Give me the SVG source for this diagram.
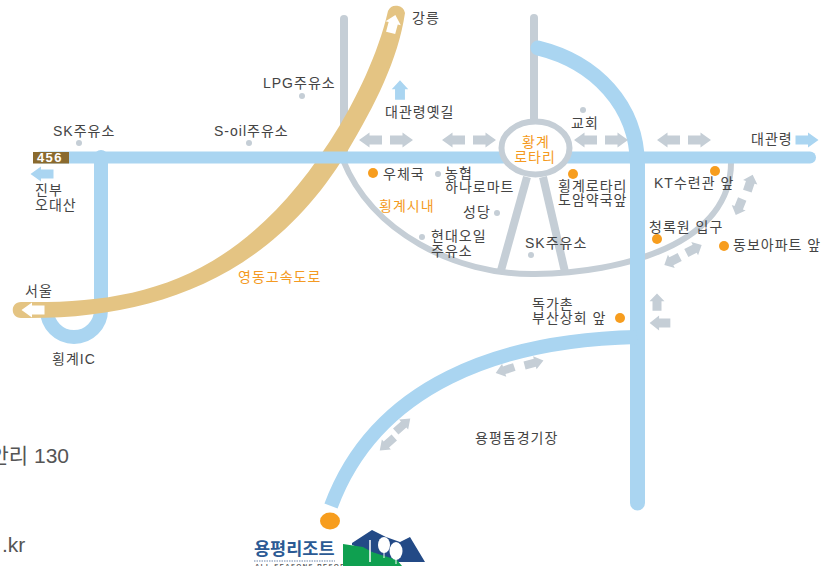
<svg xmlns="http://www.w3.org/2000/svg" width="823" height="566" viewBox="0 0 823 566">
<style>
text{font-family:"Liberation Sans","Noto Sans CJK KR",sans-serif;font-size:14px;letter-spacing:1px;fill:#444}
.o{fill:#f49a22}
.blue{fill:none;stroke:#aad5f1}
.gray{fill:none;stroke:#c5ced6}
.dg{fill:#c5ced6}.do{fill:#f79d1e}
.ag{fill:#c5ced6}.ab{fill:#aad5f1}.aw{fill:#fff}
</style>
<defs><path id="a" d="M-11.500,-4.500H1V-7.500L11.500,0L1,7.500V4.500H-11.500Z"/></defs>
<rect width="823" height="566" fill="#fff"/>
<g id="connectors">
<path class="gray" stroke-width="8" stroke-linecap="round" d="M344,19V157"/>
<path class="gray" stroke-width="8" stroke-linecap="round" d="M534,18V122"/>
<path class="gray" stroke-width="6" d="M343,160C372,232 455,275 535,274C620,273 733,245 731,160"/>
<path class="gray" stroke-width="8" d="M527,177L500,274"/>
<path class="gray" stroke-width="8" d="M543,177L565,272"/>
<path class="blue" stroke-width="14" stroke-linecap="round" d="M101,157V310A27,27 0 0 1 47,310"/>
<path d="M21,302C140,304 245,282 340,125C355,100 378,55 388,11A9,9 0 0 1 405,13C398,60 375,105 347,152C270,280 150,320 21,318C10,318 10,302 21,302Z" fill="#e4c483"/>
<path class="blue" stroke-width="12" stroke-linecap="round" d="M40,157.500H810"/>
<path class="blue" stroke-width="15" stroke-linecap="round" d="M538,48C595,62 637,105 637.500,165V503"/>
<path class="blue" stroke-width="14" d="M637,337C500,340 376,385 331,506"/>
<use href="#a" class="aw" transform="translate(33,310) rotate(180)"/>
<use href="#a" class="aw" transform="translate(393,24) rotate(-75) scale(.8,1.050)"/>
<use href="#a" class="ab" transform="translate(42,174) rotate(180)"/>
<use href="#a" class="ab" transform="translate(400,90) rotate(-90) scale(.85,1.100)"/>
<use href="#a" class="ab" transform="translate(807,140)"/>
<use href="#a" class="ag" transform="translate(370.500,140) rotate(180)"/>
<use href="#a" class="ag" transform="translate(401.500,140)"/>
<use href="#a" class="ag" transform="translate(453.500,140) rotate(180)"/>
<use href="#a" class="ag" transform="translate(484.500,140)"/>
<use href="#a" class="ag" transform="translate(585.500,140) rotate(180)"/>
<use href="#a" class="ag" transform="translate(616.500,140)"/>
<use href="#a" class="ag" transform="translate(668.500,140) rotate(180)"/>
<use href="#a" class="ag" transform="translate(699.500,140)"/>
<use href="#a" class="ag" transform="translate(750,183) rotate(-72) scale(.75,1)"/>
<use href="#a" class="ag" transform="translate(739,207) rotate(112) scale(.75,1)"/>
<use href="#a" class="ag" transform="translate(694,249) rotate(-27) scale(.75,1)"/>
<use href="#a" class="ag" transform="translate(672,261) rotate(153) scale(.75,1)"/>
<use href="#a" class="ag" transform="translate(657,302) rotate(-90) scale(.75,1)"/>
<use href="#a" class="ag" transform="translate(660,323) rotate(180) scale(.9,1)"/>
<use href="#a" class="ag" transform="translate(505,370) rotate(162) scale(.85,.9)"/>
<use href="#a" class="ag" transform="translate(534,363) rotate(-15) scale(.85,.9)"/>
<use href="#a" class="ag" transform="translate(403,425) rotate(-42) scale(.85,.9)"/>
<use href="#a" class="ag" transform="translate(387,444) rotate(138) scale(.85,.9)"/>
</g>
<g id="n456"><rect x="33" y="152" width="36" height="11.500" fill="#8a6a2e"/><text x="50" y="162" text-anchor="middle" style="font-size:13px;font-weight:bold;letter-spacing:1.500px;fill:#fff">456</text></g>
<g id="rotary"><ellipse cx="535.500" cy="148" rx="34" ry="26.500" fill="#fff" stroke="#c5ced6" stroke-width="6"/><text class="o" x="536" y="147" text-anchor="middle">황계</text><text class="o" x="535" y="162" text-anchor="middle">로타리</text></g>
<g id="labels">
<g id="l-gangneung"><text x="412" y="23">강릉</text></g>
<g id="l-lpg"><text x="263" y="88">LPG주유소</text><circle class="dg" cx="302" cy="96" r="3"/></g>
<g id="l-oldroad"><text x="385" y="117">대관령옛길</text></g>
<g id="l-church"><text x="571" y="128">교회</text><circle class="dg" cx="583" cy="110" r="3"/></g>
<g id="l-sk1"><text x="53" y="136">SK주유소</text><circle class="dg" cx="79" cy="143" r="3"/></g>
<g id="l-soil"><text x="214" y="136">S-oil주유소</text><circle class="dg" cx="249" cy="143" r="3"/></g>
<g id="l-daegwan"><text x="751" y="144">대관령</text></g>
<g id="l-jinbu"><text x="35" y="195">진부</text><text x="35" y="210">오대산</text></g>
<g id="l-seoul"><text x="25" y="296">서울</text></g>
<g id="l-ic"><text x="52" y="364">횡계IC</text></g>
<g id="l-post"><circle class="do" cx="373" cy="173" r="5"/><text x="383" y="179">우체국</text></g>
<g id="l-hanaro"><circle class="dg" cx="438" cy="174" r="3"/><text x="445" y="178">농협</text><text x="445" y="192">하나로마트</text></g>
<g id="l-town"><text class="o" x="379" y="211">횡계시내</text></g>
<g id="l-church2"><text x="463" y="217">성당</text><circle class="dg" cx="497" cy="213" r="3"/></g>
<g id="l-hyundai"><circle class="dg" cx="422" cy="237" r="3"/><text x="431" y="241">현대오일</text><text x="431" y="256">주유소</text></g>
<g id="l-sk2"><text x="525" y="248">SK주유소</text><circle class="dg" cx="531" cy="255" r="3"/></g>
<g id="l-doam"><circle class="do" cx="573" cy="174" r="5"/><text x="558" y="191">횡계로타리</text><text x="558" y="205">도암약국앞</text></g>
<g id="l-kt"><circle class="do" cx="715" cy="171" r="5"/><text x="654" y="188">KT수련관 앞</text></g>
<g id="l-cheong"><text x="649" y="232">청록원 입구</text><circle class="do" cx="657" cy="239" r="5"/></g>
<g id="l-dongbo"><circle class="do" cx="724" cy="246" r="5"/><text x="733" y="250">동보아파트 앞</text></g>
<g id="l-dokga"><text x="532" y="309">독가촌</text><text x="532" y="323">부산상회 앞</text><circle class="do" cx="620" cy="318" r="5"/></g>
<g id="l-dome"><text x="475" y="443">용평돔경기장</text></g>
<g id="l-highway"><text class="o" x="238" y="282">영동고속도로</text></g>
<text x="69" y="463" text-anchor="end" style="font-size:21px;letter-spacing:0;fill:#555">안리 130</text>
<text x="2" y="552" style="font-size:21px;letter-spacing:0;fill:#555">.kr</text>
</g>
<g id="resort">
<ellipse cx="330" cy="521" rx="10" ry="8.500" fill="#f79d1e"/>
<text x="254" y="555" style="font-size:17.500px;letter-spacing:0;font-weight:bold;fill:#2b5a94">용평리조트</text>
<path d="M254,561H335" stroke="#9fb0c8" stroke-width="1.500" stroke-dasharray="1.500 1" fill="none"/>
<text x="255" y="568" style="font-size:6px;font-weight:bold;letter-spacing:1.500px;fill:#555">ALL SEASONS RESORT</text>
<path d="M352,543L372,530L386,537L400,542L410,537L425,562H397L352,545Z" fill="#234a86"/>
<path d="M343,544L363,547L372,552L397,560L402,566H343Z" fill="#0fa050"/>
<path d="M370,540V562" stroke="#fff" stroke-width="1.500"/>
<g fill="#fff"><ellipse cx="384" cy="545" rx="6" ry="8"/><ellipse cx="396" cy="551" rx="6.500" ry="9"/><path d="M383.500,550h1v8h-1ZM395.500,556h1v8h-1Z"/></g>
</g>
</svg>
